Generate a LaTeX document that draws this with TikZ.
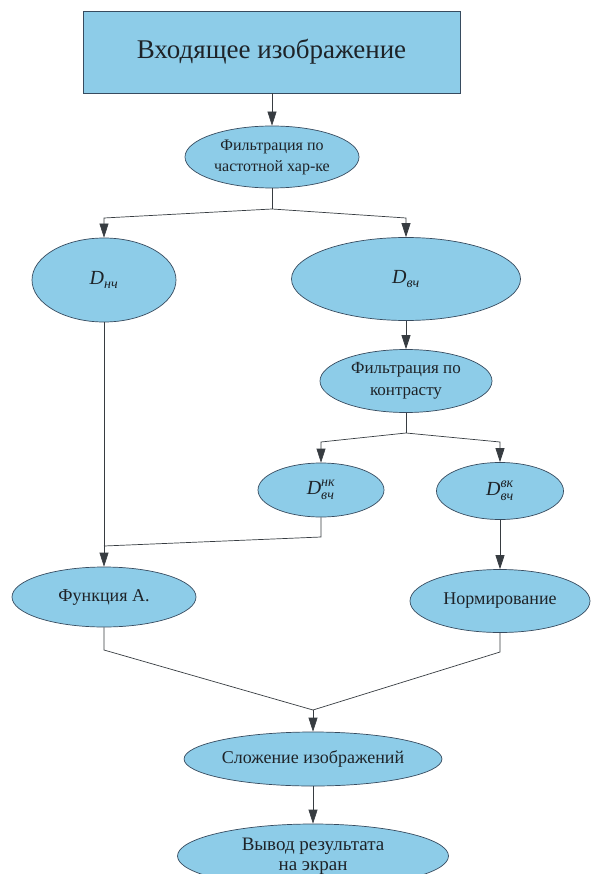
\documentclass[tikz,border=0pt]{standalone}
\usepackage{fontspec}
\usepackage{amsmath}
\setmainfont{Liberation Serif}
\usetikzlibrary{arrows.meta,shapes.geometric}
\definecolor{boxfill}{RGB}{141,204,232}
\definecolor{boxline}{RGB}{55,75,95}
\definecolor{wire}{RGB}{55,60,65}
\definecolor{txt}{RGB}{30,35,40}
\tikzset{
  elbox/.style={ellipse, draw=boxline, fill=boxfill, line width=0.7pt, inner sep=0pt, align=center, text=txt},
  rectbox/.style={rectangle, draw=boxline, fill=boxfill, line width=0.7pt, inner sep=0pt, text=txt},
  wireline/.style={draw=wire, line width=0.7pt},
  arr/.style={wireline, -{Triangle[length=14pt,width=9pt]}}
}
\newcommand{\Dsym}[1]{$\text{\itshape D}_{\text{\itshape #1}}$}
\newcommand{\Dsymtwo}[2]{$\text{\itshape D}^{\text{\itshape #1}}_{\text{\itshape #2}}$}
\begin{document}
\begin{tikzpicture}[x=1pt,y=-1pt]
\useasboundingbox (0,0) rectangle (598,874);
\fill[white] (0,0) rectangle (598,874);
\node[rectbox, minimum width=377pt, minimum height=82pt, font=\fontsize{27}{30}\selectfont] (top) at (271.5,52) {Входящее изображение};
\node[elbox, minimum width=174pt, minimum height=62pt, font=\fontsize{16}{21}\selectfont] (f1) at (272,157) {Фильтрация по\\частотной хар-ке};
\node[elbox, minimum width=144pt, minimum height=84pt, font=\fontsize{20}{24}\selectfont] (dn) at (104,280) {\Dsym{нч}};
\node[elbox, minimum width=229pt, minimum height=83pt, font=\fontsize{20}{24}\selectfont] (dv) at (406,279) {\Dsym{вч}};
\node[elbox, minimum width=172pt, minimum height=63pt, font=\fontsize{17}{22}\selectfont] (f2) at (406,381) {Фильтрация по\\контрасту};
\node[elbox, minimum width=126pt, minimum height=54pt, font=\fontsize{20}{24}\selectfont] (dnk) at (321,490) {\Dsymtwo{нк}{вч}};
\node[elbox, minimum width=127pt, minimum height=57pt, font=\fontsize{20}{24}\selectfont] (dvk) at (500,491) {\Dsymtwo{вк}{вч}};
\node[elbox, minimum width=184pt, minimum height=60pt, font=\fontsize{18}{22}\selectfont] (fa) at (104,597) {Функция А.};
\node[elbox, minimum width=180pt, minimum height=63pt, font=\fontsize{18}{22}\selectfont] (norm) at (500,601) {Нормирование};
\node[elbox, minimum width=214pt, minimum height=54pt, font=\fontsize{18}{22}\selectfont] (sum) at (313,759) {Сложение изображений};
\node[elbox, minimum width=271pt, minimum height=64pt, font=\fontsize{19}{20}\selectfont] (out) at (313,856) {Вывод результата\\на экран};
\coordinate (j1) at (272,209);
\coordinate (l1) at (104,218);
\coordinate (r1) at (406,218);
\coordinate (j2) at (406,433);
\coordinate (l2) at (321,442);
\coordinate (r2) at (500,442);
\coordinate (jn) at (321,537);
\coordinate (jm) at (104,546);
\coordinate (ja) at (104,650);
\coordinate (jb) at (500,652);
\coordinate (js) at (313,710);
\draw[arr] (top.south -| f1.north) -- (f1.north);
\draw[wireline] (f1.south) -- (j1);
\draw[arr] (j1) -- (l1) -- (dn.north);
\draw[arr] (j1) -- (r1) -- (dv.north);
\draw[arr] (dv.south) -- (f2.north);
\draw[wireline] (f2.south) -- (j2);
\draw[arr] (j2) -- (l2) -- (dnk.north);
\draw[arr] (j2) -- (r2) -- (dvk.north);
\draw[arr] (dn.south) -- (fa.north);
\draw[wireline] (dnk.south) -- (jn) -- (jm);
\draw[arr] (dvk.south) -- (norm.north);
\draw[wireline] (fa.south) -- (ja) -- (js);
\draw[wireline] (norm.south) -- (jb) -- (js);
\draw[arr] (js) -- (sum.north);
\draw[arr] (sum.south) -- (out.north);
\end{tikzpicture}
\end{document}
